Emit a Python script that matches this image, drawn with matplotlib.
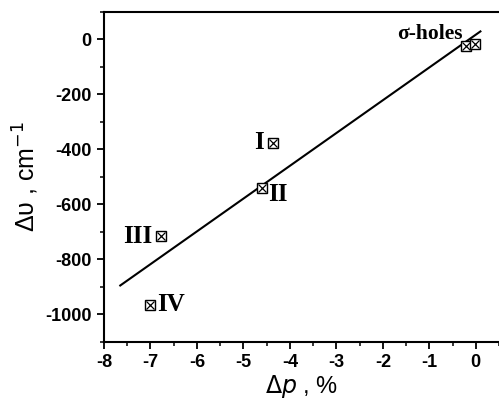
import numpy as np
import matplotlib
matplotlib.use("Agg")
import matplotlib.pyplot as plt
from matplotlib.ticker import MultipleLocator

plt.rcParams["axes.unicode_minus"] = False

# Data: relative change of p (%) vs. frequency shift (cm^-1)
dp = [-0.2, -0.02, -4.37, -4.61, -6.78, -7.0]
dnu = [-25, -15, -375, -540, -715, -965]
labels = ["σ-holes", "", "I", "II", "III", "IV"]
fit_range = [-7.65, 0.1]

x_ticks = [-8, -7, -6, -5, -4, -3, -2, -1, 0]
y_ticks = [0, -200, -400, -600, -800, -1000]

fig = plt.figure(figsize=(4.99, 4.05), dpi=100)
ax = fig.add_axes([0.2084, 0.1556, 0.7916, 0.8148])

# Linear fit through all points
slope, intercept = np.polyfit(dp, dnu, 1)
xf = np.array(fit_range)
ax.plot(xf, slope * xf + intercept, color="black", lw=1.5, zorder=2)

# Boxed-cross markers
ax.plot(dp, dnu, ls="none", marker="s", ms=7, mfc="white", mec="black", mew=1.0, zorder=3)
ax.plot(dp, dnu, ls="none", marker="x", ms=5.5, mec="black", mew=0.9, zorder=4)

serif = dict(family="Liberation Serif", weight="bold", color="black")
offsets = {
    "I": ((-6, 0), "right", "center", 18),
    "II": ((5, -5), "left", "center", 18),
    "III": ((-6, 0), "right", "center", 18),
    "IV": ((5, 0), "left", "center", 18),
    "σ-holes": ((-3, 2), "right", "bottom", 15.5),
}
for x, y, lab in zip(dp, dnu, labels):
    if not lab:
        continue
    off, ha, va, fs = offsets[lab]
    ax.annotate(lab, (x, y), xytext=off, textcoords="offset points",
                ha=ha, va=va, fontsize=fs, **serif)

ax.set_xlim(-8, 0.5)
ax.set_ylim(-1100, 100)
ax.set_xticks(x_ticks)
ax.set_yticks(y_ticks)
ax.xaxis.set_minor_locator(MultipleLocator(0.5))
ax.yaxis.set_minor_locator(MultipleLocator(100))
ax.tick_params(which="major", direction="out", length=5, width=1.3, pad=4)
ax.tick_params(which="minor", direction="out", length=3, width=1.1)
for lab in ax.get_xticklabels() + ax.get_yticklabels():
    lab.set_fontfamily("Liberation Sans")
    lab.set_fontweight("bold")
    lab.set_fontsize(13)

for s in ("left", "bottom", "top"):
    ax.spines[s].set_linewidth(1.5)
ax.spines["right"].set_visible(False)

ax.set_xlabel(r"$\Delta$$\it{p}$ , %", fontsize=17, family="Liberation Sans", labelpad=1)
ax.set_ylabel("Δυ , cm$^{-1}$", fontsize=18, family="Liberation Sans", labelpad=3)

fig.savefig("out.png", dpi=100)
